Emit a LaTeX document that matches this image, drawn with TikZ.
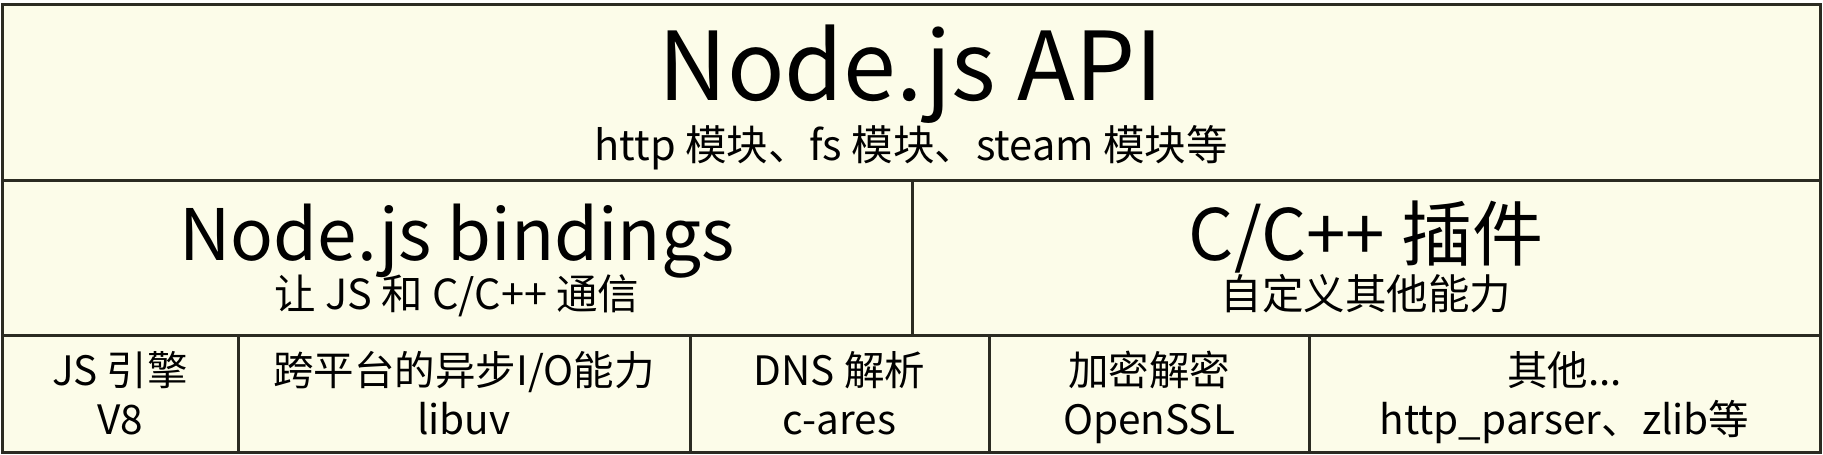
\documentclass[tikz,border=0pt]{standalone}
\usepackage{fontspec}
\setmainfont{Noto Sans CJK SC}
\definecolor{cream}{HTML}{FCFCE9}
\definecolor{edge}{HTML}{2B2B22}
\begin{document}
\begin{tikzpicture}[x=1pt,y=-1pt,
  cellbox/.style={draw=edge, line width=3pt, fill=cream, inner sep=0pt},
  bigtxt/.style={anchor=base, inner sep=0pt, font=\fontsize{95}{104}\selectfont},
  midtxt/.style={anchor=base, inner sep=0pt, font=\fontsize{71}{78}\selectfont},
  subtxt/.style={anchor=base, inner sep=0pt, font=\fontsize{41.5}{47}\selectfont},
  smalltxt/.style={anchor=base, inner sep=0pt, font=\fontsize{40.5}{46}\selectfont}]
\useasboundingbox[fill=white] (0,0) rectangle (1823,455);
% cells
\node[cellbox, minimum width=1818pt, minimum height=176pt] (top) at (911,92) {};
\node[cellbox, minimum width=910pt, minimum height=155pt] (midL) at (457,257.5) {};
\node[cellbox, minimum width=908pt, minimum height=155pt] (midR) at (1366,257.5) {};
\node[cellbox, minimum width=236pt, minimum height=117pt] (b1) at (120,393.5) {};
\node[cellbox, minimum width=452pt, minimum height=117pt] (b2) at (464,393.5) {};
\node[cellbox, minimum width=299pt, minimum height=117pt] (b3) at (839.5,393.5) {};
\node[cellbox, minimum width=320pt, minimum height=117pt] (b4) at (1149,393.5) {};
\node[cellbox, minimum width=511pt, minimum height=117pt] (b5) at (1564.5,393.5) {};
% texts
\node[bigtxt] (t1) at (911,100) {Node.js API};
\node[subtxt] (t1s) at (911,160) {http 模块、fs 模块、steam 模块等};
\node[midtxt] (m1) at (457,260) {Node.js bindings};
\node[subtxt] (m1s) at (457,309) {让 JS 和 C/C++ 通信};
\node[midtxt] (m2) at (1366,260) {C/C++ 插件};
\node[subtxt] (m2s) at (1366,309) {自定义其他能力};
\node[smalltxt] (b1a) at (120,385) {JS 引擎};
\node[smalltxt] (b1b) at (120,434) {V8};
\node[smalltxt] (b2a) at (464,385) {跨平台的异步I/O能力};
\node[smalltxt] (b2b) at (464,434) {libuv};
\node[smalltxt] (b3a) at (839.5,385) {DNS 解析};
\node[smalltxt] (b3b) at (839.5,434) {c-ares};
\node[smalltxt] (b4a) at (1149,385) {加密解密};
\node[smalltxt] (b4b) at (1149,434) {OpenSSL};
\node[smalltxt] (b5a) at (1564.5,385) {其他...};
\node[smalltxt] (b5b) at (1564.5,434) {http\_parser、zlib等};
\end{tikzpicture}
\end{document}
